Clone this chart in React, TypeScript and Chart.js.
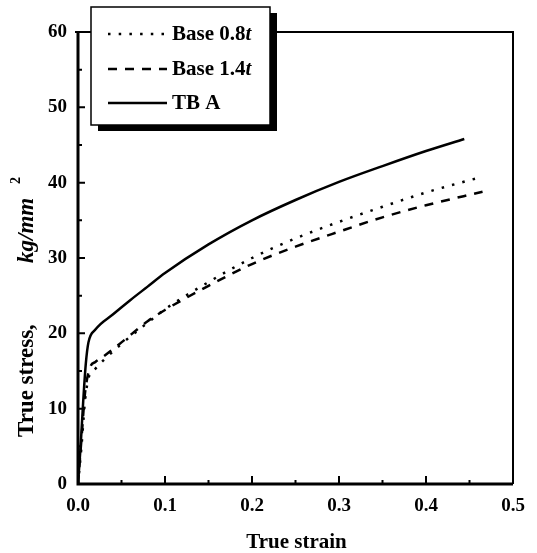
import React, { useEffect, useRef } from "react";
import { Chart, registerables } from "chart.js";
Chart.register(...registerables);

// ---- data ----
const base08Strain = [0, 0.004, 0.008, 0.012, 0.02, 0.03, 0.05, 0.08, 0.1, 0.15, 0.2, 0.25, 0.3, 0.35, 0.4, 0.465];
const base08Stress = [0, 5, 11, 14, 15.3, 16.5, 18.6, 21.4, 23.2, 26.8, 30.0, 32.6, 34.8, 36.8, 38.7, 40.8];
const base14Strain = [0, 0.004, 0.008, 0.014, 0.02, 0.03, 0.05, 0.08, 0.1, 0.15, 0.2, 0.25, 0.3, 0.35, 0.4, 0.465];
const base14Stress = [0, 6, 12, 15.5, 16.2, 17.0, 18.8, 21.6, 23.1, 26.3, 29.2, 31.5, 33.5, 35.4, 37.0, 38.8];
const tbaStrain = [0, 0.003, 0.006, 0.009, 0.012, 0.02, 0.04, 0.06, 0.08, 0.1, 0.15, 0.2, 0.25, 0.3, 0.35, 0.4, 0.444];
const tbaStress = [0, 5, 11, 16, 18.8, 20.5, 22.5, 24.4, 26.2, 28.0, 31.8, 35.0, 37.7, 40.1, 42.2, 44.2, 45.8];

const seriesNames = ["Base 0.8", "Base 1.4", "TB A"];
const seriesItalicSuffix = ["t", "t", ""];

const xMajorTicks = [0, 0.1, 0.2, 0.3, 0.4, 0.5];
const xMinorTicks = [0.05, 0.15, 0.25, 0.35, 0.45];
const yMajorTicks = [0, 10, 20, 30, 40, 50, 60];
const yMinorTicks = [5, 15, 25, 35, 45, 55];

const xTitle = "True strain";
const yTitleMain = "True stress,";
const yTitleUnit = "kg/mm";
const yTitleSup = "2";

const FONT = "'Liberation Serif', 'Times New Roman', serif";

const toPoints = (xs: number[], ys: number[]) => xs.map((x, i) => ({ x, y: ys[i] }));

const dashes: number[][] = [[2.5, 8.2], [9, 8], []];

const decor = {
  id: "decor",
  afterDatasetsDraw(chart: any) {
    const ctx: CanvasRenderingContext2D = chart.ctx;
    const xs = chart.scales.x;
    const ys = chart.scales.y;
    const L = xs.left, R = xs.right, T = ys.top, B = ys.bottom;
    ctx.save();
    ctx.strokeStyle = "#000";
    ctx.fillStyle = "#000";
    ctx.setLineDash([]);
    // frame
    ctx.lineWidth = 2;
    ctx.beginPath();
    ctx.moveTo(L - 3, T);
    ctx.lineTo(R, T);
    ctx.lineTo(R, B);
    ctx.stroke();
    ctx.lineWidth = 3;
    ctx.beginPath();
    ctx.moveTo(L, T);
    ctx.lineTo(L, B);
    ctx.lineTo(R, B);
    ctx.stroke();
    // ticks
    ctx.lineWidth = 2;
    ctx.beginPath();
    xMajorTicks.forEach((v) => {
      const p = xs.getPixelForValue(v);
      ctx.moveTo(p, B);
      ctx.lineTo(p, B - 8);
    });
    xMinorTicks.forEach((v) => {
      const p = xs.getPixelForValue(v);
      ctx.moveTo(p, B);
      ctx.lineTo(p, B - 4);
    });
    yMajorTicks.forEach((v) => {
      const p = ys.getPixelForValue(v);
      ctx.moveTo(L, p);
      ctx.lineTo(L + 7, p);
    });
    yMinorTicks.forEach((v) => {
      const p = ys.getPixelForValue(v);
      ctx.moveTo(L, p);
      ctx.lineTo(L + 4, p);
    });
    ctx.stroke();

    // legend box with shadow
    const bx = 91, by = 7, bw = 179, bh = 118;
    ctx.fillRect(bx + 7, by + 6, bw, bh);
    ctx.fillStyle = "#fff";
    ctx.fillRect(bx, by, bw, bh);
    ctx.fillStyle = "#000";
    ctx.lineWidth = 1.5;
    ctx.strokeRect(bx, by, bw, bh);
    const rowY = [34, 69, 103];
    const datasets = chart.data.datasets;
    seriesNames.forEach((name, i) => {
      const y = rowY[i];
      ctx.lineWidth = datasets[i].borderWidth;
      ctx.setLineDash(dashes[i]);
      ctx.beginPath();
      ctx.moveTo(108, y);
      ctx.lineTo(167, y);
      ctx.stroke();
      ctx.setLineDash([]);
      ctx.textBaseline = "middle";
      ctx.textAlign = "left";
      ctx.font = `bold 21px ${FONT}`;
      ctx.fillText(name, 172, y + 1);
      const w = ctx.measureText(name).width;
      if (seriesItalicSuffix[i]) {
        ctx.font = `italic bold 21px ${FONT}`;
        ctx.fillText(seriesItalicSuffix[i], 172 + w, y + 1);
      }
    });

    // x title
    ctx.textBaseline = "alphabetic";
    ctx.textAlign = "center";
    ctx.font = `bold 21px ${FONT}`;
    ctx.fillText(xTitle, (L + R) / 2 + 1, 548);

    // y title
    ctx.translate(33, 437);
    ctx.rotate(-Math.PI / 2);
    ctx.textAlign = "left";
    ctx.font = `bold 23px ${FONT}`;
    ctx.fillText(yTitleMain, 0, 0);
    ctx.font = `italic bold 23px ${FONT}`;
    ctx.fillText(yTitleUnit, 174, 0);
    ctx.font = `bold 14px ${FONT}`;
    ctx.fillText(yTitleSup, 253, -13);
    ctx.restore();
  },
};

export default function App() {
  const ref = useRef<HTMLCanvasElement>(null);
  useEffect(() => {
    document.body.style.margin = "0";
    const tickFont = { family: FONT, weight: "bold" as const, size: 19 };
    const chart = new Chart(ref.current!, {
      type: "line",
      data: {
        datasets: [
          {
            label: seriesNames[0] + seriesItalicSuffix[0],
            data: toPoints(base08Strain, base08Stress),
            borderColor: "#000",
            borderWidth: 2.5,
            borderDash: dashes[0],
            pointRadius: 0,
            fill: false,
            cubicInterpolationMode: "monotone",
          },
          {
            label: seriesNames[1] + seriesItalicSuffix[1],
            data: toPoints(base14Strain, base14Stress),
            borderColor: "#000",
            borderWidth: 2.5,
            borderDash: dashes[1],
            pointRadius: 0,
            fill: false,
            cubicInterpolationMode: "monotone",
          },
          {
            label: seriesNames[2] + seriesItalicSuffix[2],
            data: toPoints(tbaStrain, tbaStress),
            borderColor: "#000",
            borderWidth: 2.5,
            pointRadius: 0,
            fill: false,
            cubicInterpolationMode: "monotone",
          },
        ],
      },
      options: {
        responsive: false,
        devicePixelRatio: 1,
        animation: false,
        layout: { padding: { top: 32, right: 24, left: 0, bottom: 0 } },
        plugins: { legend: { display: false }, tooltip: { enabled: false } },
        scales: {
          x: {
            type: "linear",
            min: 0,
            max: 0.5,
            ticks: {
              stepSize: 0.1,
              callback: (v: any) => Number(v).toFixed(1),
              font: tickFont,
              color: "#000",
              padding: 11,
              maxRotation: 0,
            },
            grid: { display: false, drawTicks: false },
            border: { display: false },
            afterFit: (s: any) => {
              s.height = 69;
            },
          },
          y: {
            type: "linear",
            min: 0,
            max: 60,
            ticks: {
              stepSize: 10,
              font: tickFont,
              color: "#000",
              padding: 11,
            },
            grid: { display: false, drawTicks: false },
            border: { display: false },
            afterFit: (s: any) => {
              s.width = 78;
            },
          },
        },
      },
      plugins: [decor],
    });
    return () => chart.destroy();
  }, []);
  return (
    <div style={{ width: 537, height: 553 }}>
      <canvas ref={ref} width={537} height={553} style={{ display: "block", width: 537, height: 553 }} />
    </div>
  );
}
